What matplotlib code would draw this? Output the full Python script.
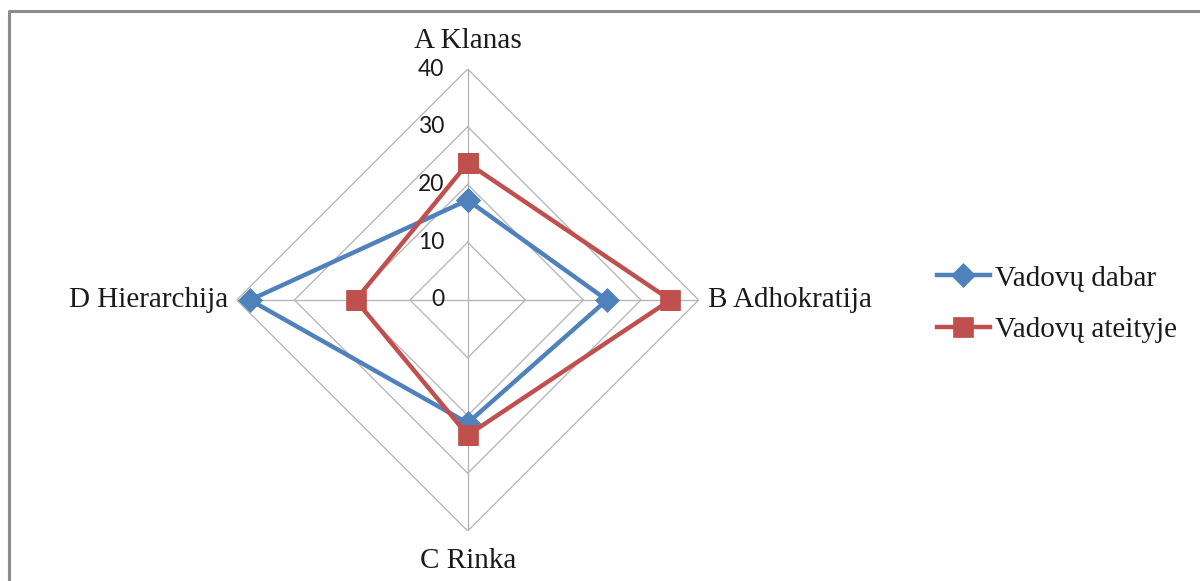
import numpy as np
import matplotlib
matplotlib.use("Agg")
import matplotlib.pyplot as plt
from matplotlib.lines import Line2D

# Culture profile (OCAI) of managers: now vs. desired future
categories = ["A Klanas", "B Adhokratija", "C Rinka", "D Hierarchija"]
series_names = ["Vadovų dabar", "Vadovų ateityje"]
vadovu_dabar = [17.3, 24.1, 21.3, 37.7]
vadovu_ateityje = [23.7, 35.1, 23.4, 19.4]
r_ticks = [0, 10, 20, 30, 40]

BLUE = "#4F81BD"
RED = "#C0504D"
GRID = "#B3B3B3"
SERIF = ["Liberation Serif", "DejaVu Serif"]

W, H = 1200, 581
fig = plt.figure(figsize=(W / 100, H / 100), dpi=100)
fig.patch.set_facecolor("white")

# polar axes centred on the chart area, radius 231 px for r = 40
cx, cy, R = 467.7, 300.0, 231.0
ax = fig.add_axes([(cx - R) / W, (H - cy - R) / H, 2 * R / W, 2 * R / H],
                  projection="polar")
ax.set_theta_zero_location("N")
ax.set_theta_direction(-1)
ax.set_ylim(0, r_ticks[-1])
ax.grid(False)
ax.spines["polar"].set_visible(False)
ax.set_xticks([])
ax.set_yticks([])
ax.patch.set_alpha(0)

n = len(categories)
angles = np.arange(n) * 2 * np.pi / n
closed = np.append(angles, angles[0])

# diamond-shaped gridlines and spokes
for r in r_ticks[1:]:
    ax.plot(closed, [r] * (n + 1), color=GRID, lw=0.9, zorder=1)
for a in angles:
    ax.plot([a, a], [0, r_ticks[-1]], color=GRID, lw=0.9, zorder=1)

# radial tick labels, left of the top spoke
for r in r_ticks:
    ax.annotate(str(r), xy=(0, r), xytext=(-17, 0), textcoords="offset points",
                ha="right", va="center", fontsize=16.5, family="Lato",
                color="#1a1a1a", annotation_clip=False)

# category labels
label_offsets = [(0, 11, "center", "bottom"), (7, 0, "left", "center"),
                 (0, -12, "center", "top"), (-6, 0, "right", "center")]
for a, lab, (dx, dy, ha, va) in zip(angles, categories, label_offsets):
    ax.annotate(lab, xy=(a, r_ticks[-1]), xytext=(dx, dy),
                textcoords="offset points", ha=ha, va=va, fontsize=21,
                family=SERIF, color="#1a1a1a", annotation_clip=False)

# data series
l1, = ax.plot(closed, vadovu_dabar + vadovu_dabar[:1], color=BLUE, lw=3.2,
              marker="D", ms=12, mec=BLUE, mfc=BLUE, mew=0.5, zorder=3,
              label=series_names[0])
l2, = ax.plot(closed, vadovu_ateityje + vadovu_ateityje[:1], color=RED, lw=3.2,
              marker="s", ms=14.5, mec=RED, mfc=RED, mew=0.5, zorder=4,
              label=series_names[1])

leg = fig.legend(handles=[l1, l2], loc="center left",
                 bbox_to_anchor=(937 / W, 1 - 304 / H), frameon=False,
                 prop={"family": SERIF, "size": 21}, handlelength=1.8,
                 handletextpad=0.2, labelspacing=0.85, borderpad=0,
                 borderaxespad=0)
for t in leg.get_texts():
    t.set_color("#1a1a1a")

# outer chart frame (top and left edges)
fig.add_artist(Line2D([8.5 / W, 8.5 / W, 1.0], [0.0, 1 - 11 / H, 1 - 11 / H],
                      transform=fig.transFigure, color="#8C8C8C", lw=2.2))

fig.savefig("out.png", dpi=100, facecolor="white")
